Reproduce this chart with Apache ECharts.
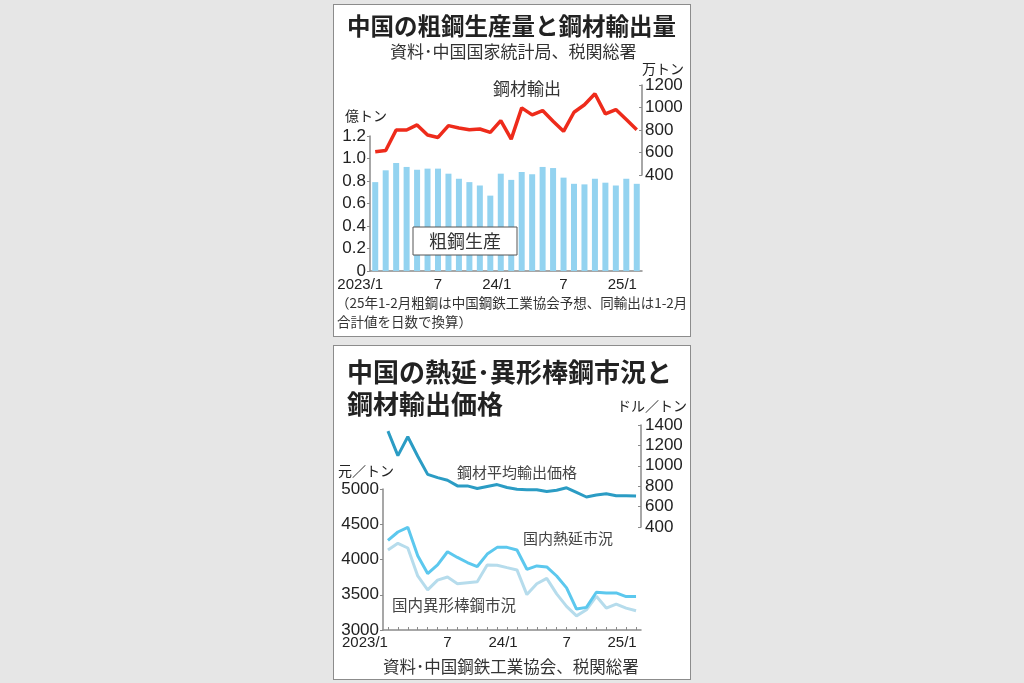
<!DOCTYPE html>
<html>
<head>
<meta charset="utf-8">
<script src="https://cdn.jsdelivr.net/npm/echarts@6/dist/echarts.min.js"></script>
<style>
html, body { margin: 0; padding: 0; background: #e6e6e6; }
.panel { position: absolute; left: 333px; width: 356px; background: #fff; border: 1.5px solid #8c8c8c; }
#p1 { top: 4px; height: 331px; }
#p2 { top: 345px; height: 333px; }
#chart { position: absolute; left: 0; top: 0; width: 1024px; height: 683px; }
</style>
</head>
<body>
<div class="panel" id="p1"></div>
<div class="panel" id="p2"></div>
<div id="chart"></div>
<script>
// 2023/1 ～ 2025/2
const months = ['2023/1','2023/2','2023/3','2023/4','2023/5','2023/6','2023/7','2023/8','2023/9','2023/10','2023/11','2023/12',
    '2024/1','2024/2','2024/3','2024/4','2024/5','2024/6','2024/7','2024/8','2024/9','2024/10','2024/11','2024/12',
    '2025/1','2025/2'];
const tickLabels = ['2023/1','','','','','','7','','','','','','24/1','','','','','','7','','','','','','25/1',''];

// 粗鋼生産（億トン）
const crudeSteel = [0.79, 0.895, 0.96, 0.925, 0.90, 0.91, 0.91, 0.865, 0.82, 0.79, 0.76, 0.67,
    0.865, 0.81, 0.88, 0.86, 0.925, 0.915, 0.83, 0.775, 0.77, 0.82, 0.785, 0.76, 0.82, 0.775];
// 鋼材輸出（万トン）
const steelExport = [606, 618, 800, 800, 845, 755, 734, 839, 818, 803, 809, 779,
    884, 719, 997, 934, 973, 878, 788, 958, 1024, 1122, 943, 982, 893, 803];

// 鋼材平均輸出価格（ドル/トン）
const exportPrice = [1340, 1100, 1285, 1094, 916, 884, 858, 803, 803, 777, 797, 816,
    787, 771, 765, 765, 748, 761, 784, 739, 694, 713, 726, 706, 706, 703];
// 国内熱延市況（元/トン）
const hotRolled = [4270, 4390, 4457, 4053, 3800, 3923, 4110, 4029, 3957, 3900, 4077, 4172,
    4172, 4134, 3861, 3909, 3895, 3766, 3598, 3297, 3321, 3536, 3526, 3526, 3474, 3474];
// 国内異形棒鋼市況（元/トン）
const rebar = [4134, 4230, 4163, 3766, 3570, 3708, 3751, 3656, 3670, 3684, 3923, 3919,
    3885, 3852, 3502, 3656, 3732, 3512, 3335, 3200, 3287, 3478, 3311, 3368, 3311, 3273];

const NUM = "'Liberation Sans', Arial, sans-serif";
const JP = "'Noto Sans CJK JP', sans-serif";
const axisGray = '#8a8a8a';

function xLabel(first) {
    return {
        interval: 0,
        fontFamily: NUM,
        fontSize: 15,
        color: '#222',
        formatter: function(v, i) {
            let t = tickLabels[i];
            if (!t) return '';
            if (i === 0) return '{f|' + t + '}';
            if (t.indexOf('/') > 0) return '{y|' + t + '}';
            return t;
        },
        rich: {
            f: { fontFamily: NUM, fontSize: 15, color: '#222', padding: [0, first, 0, 0] },
            y: { fontFamily: NUM, fontSize: 15, color: '#222', padding: [0, 8, 0, 0] }
        }
    };
}

function yLabel(margin, fmt) {
    return {
        fontFamily: NUM, fontSize: 17, color: '#222', margin: margin,
        formatter: fmt || (v => String(v))
    };
}

function txt(text, x, y, size, opts) {
    opts = opts || {};
    return {
        type: 'text',
        z: 100,
        style: {
            text: text,
            x: x,
            y: y,
            fontFamily: JP,
            fontSize: size,
            fontWeight: opts.weight || 'normal',
            fill: opts.color || '#333',
            textAlign: opts.align || 'left',
            textVerticalAlign: 'middle'
        }
    };
}

let option = {
    animation: false,
    grid: [
        { left: 370, top: 136, width: 272, height: 135 },
        { left: 370, top: 85, width: 272, height: 90 },
        { left: 383, top: 489, width: 258, height: 141 },
        { left: 383, top: 425, width: 258, height: 102 }
    ],
    xAxis: [
        {
            gridIndex: 0, type: 'category', data: months,
            axisLine: { lineStyle: { color: axisGray, width: 1.5 } },
            axisTick: { show: false },
            axisLabel: Object.assign(xLabel(30), { margin: 6 })
        },
        { gridIndex: 1, type: 'category', data: months, show: false },
        {
            gridIndex: 2, type: 'category', data: months,
            axisLine: { lineStyle: { color: axisGray, width: 1.5 } },
            axisTick: { show: true, inside: true, length: 3, alignWithLabel: true, interval: 0, lineStyle: { color: axisGray } },
            axisLabel: Object.assign(xLabel(46), { margin: 5 })
        },
        { gridIndex: 3, type: 'category', data: months, show: false }
    ],
    yAxis: [
        {
            gridIndex: 0, type: 'value', min: 0, max: 1.2, interval: 0.2,
            axisLine: { show: true, lineStyle: { color: axisGray, width: 1.5 } },
            axisTick: { show: true, length: 3, lineStyle: { color: axisGray } },
            splitLine: { show: false },
            axisLabel: yLabel(4, v => v === 0 ? '0' : v.toFixed(1))
        },
        {
            gridIndex: 1, type: 'value', position: 'right', min: 400, max: 1200, interval: 200,
            axisLine: { show: true, lineStyle: { color: axisGray, width: 1.5 } },
            axisTick: { show: true, inside: true, length: 3, lineStyle: { color: axisGray } },
            splitLine: { show: false },
            axisLabel: yLabel(3)
        },
        {
            gridIndex: 2, type: 'value', min: 3000, max: 5000, interval: 500,
            axisLine: { show: true, lineStyle: { color: axisGray, width: 1.5 } },
            axisTick: { show: true, length: 3, lineStyle: { color: axisGray } },
            splitLine: { show: false },
            axisLabel: yLabel(4)
        },
        {
            gridIndex: 3, type: 'value', position: 'right', min: 400, max: 1400, interval: 200,
            axisLine: { show: true, lineStyle: { color: axisGray, width: 1.5 } },
            axisTick: { show: true, inside: true, length: 3, lineStyle: { color: axisGray } },
            splitLine: { show: false },
            axisLabel: yLabel(4)
        }
    ],
    series: [
        {
            name: '粗鋼生産', type: 'bar', xAxisIndex: 0, yAxisIndex: 0,
            data: crudeSteel, barWidth: 6,
            itemStyle: { color: '#93d3f0' }
        },
        {
            name: '鋼材輸出', type: 'line', xAxisIndex: 1, yAxisIndex: 1,
            data: steelExport, symbol: 'none',
            lineStyle: { color: '#ee2b1b', width: 3.5 }
        },
        {
            name: '国内異形棒鋼市況', type: 'line', xAxisIndex: 2, yAxisIndex: 2,
            data: rebar, symbol: 'none',
            lineStyle: { color: '#b6dcec', width: 3 }
        },
        {
            name: '国内熱延市況', type: 'line', xAxisIndex: 2, yAxisIndex: 2,
            data: hotRolled, symbol: 'none',
            lineStyle: { color: '#5cc8ee', width: 3 }
        },
        {
            name: '鋼材平均輸出価格', type: 'line', xAxisIndex: 3, yAxisIndex: 3,
            data: exportPrice, symbol: 'none',
            lineStyle: { color: '#2b9cc4', width: 3 }
        }
    ],
    graphic: [
        // 上のグラフ
        txt('中国の粗鋼生産量と鋼材輸出量', 347, 26, 23.5, { weight: 'bold', color: '#222' }),
        txt('資料･中国国家統計局、税関総署', 390, 52, 17, { color: '#333' }),
        txt('万トン', 642, 69, 14, { color: '#222' }),
        txt('鋼材輸出', 493, 89, 17, { color: '#333' }),
        txt('億トン', 345, 116, 14, { color: '#222' }),
        {
            type: 'rect', z: 100,
            shape: { x: 413, y: 227, width: 104, height: 28 },
            style: { fill: '#fff', stroke: '#555', lineWidth: 1 }
        },
        txt('粗鋼生産', 465, 241, 18, { align: 'center', color: '#333' }),
        txt('（25年1-2月粗鋼は中国鋼鉄工業協会予想、同輸出は1-2月', 336, 303, 13.5, { color: '#333' }),
        txt('合計値を日数で換算）', 337, 322, 13.5, { color: '#333' }),
        // 下のグラフ
        txt('中国の熱延･異形棒鋼市況と', 347, 372, 26, { weight: 'bold', color: '#222' }),
        txt('鋼材輸出価格', 347, 404, 26, { weight: 'bold', color: '#222' }),
        txt('ドル／トン', 617, 406, 14, { color: '#222' }),
        txt('元／トン', 338, 471, 14, { color: '#222' }),
        txt('鋼材平均輸出価格', 457, 472, 15, { color: '#444' }),
        txt('国内熱延市況', 523, 538, 15, { color: '#444' }),
        txt('国内異形棒鋼市況', 392, 605, 15.5, { color: '#444' }),
        txt('資料･中国鋼鉄工業協会、税関総署', 383, 667, 16.5, { color: '#333' })
    ]
};

let chart = echarts.init(document.getElementById('chart'));
chart.setOption(option);
</script>
</body>
</html>
